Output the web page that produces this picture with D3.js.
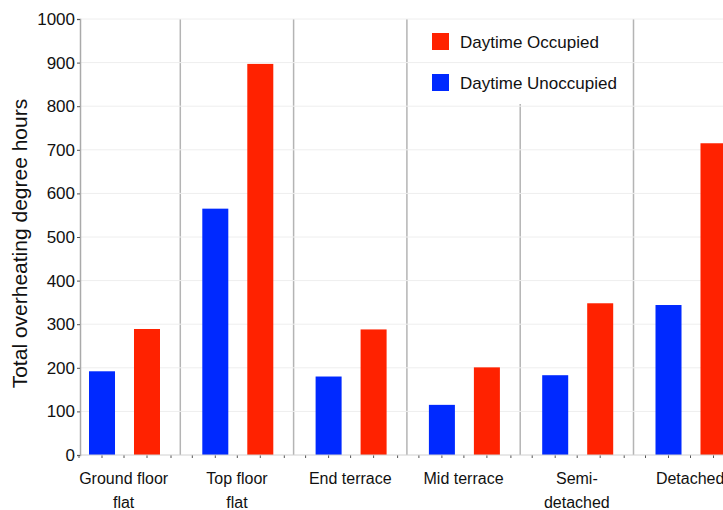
<!DOCTYPE html>
<html>
<head>
<meta charset="utf-8">
<script src="https://cdn.jsdelivr.net/npm/d3@7"></script>
<style>
  body { margin: 0; background: #fff; }
  text { font-family: "Liberation Sans", Arial, sans-serif; }
</style>
</head>
<body>
<div id="chart"></div>
<script>
// Data
const categories = ["Ground floor flat", "Top floor flat", "End terrace", "Mid terrace", "Semi-detached", "Detached"];
const labelLines = [["Ground floor", "flat"], ["Top floor", "flat"], ["End terrace"], ["Mid terrace"], ["Semi-", "detached"], ["Detached"]];
const seriesNames = ["Daytime Unoccupied", "Daytime Occupied"];
const unoccupied = [192, 565, 180, 115, 183, 344];
const occupied = [289, 897, 288, 201, 348, 715];
const yTicks = [0, 100, 200, 300, 400, 500, 600, 700, 800, 900, 1000];

const colors = { "Daytime Unoccupied": "#0029ff", "Daytime Occupied": "#ff2200" };

const width = 723;
const height = 510;
const axisX = 80;
const groupStart = 67;
const groupWidth = 113.3;

const svg = d3.select("#chart")
    .append("svg")
    .attr("width", width)
    .attr("height", height);

const yScale = d3.scaleLinear()
    .domain([0, 1000])
    .range([455, 19]);

const xScale = d3.scaleBand()
    .domain(categories)
    .range([groupStart, groupStart + groupWidth * categories.length])
    .padding(0);

const innerScale = d3.scaleBand()
    .domain(seriesNames)
    .range([22, 93])
    .paddingInner(0.422)
    .paddingOuter(0);

// Group dividers
categories.slice(1).forEach(c => {
    svg.append("line")
        .attr("x1", xScale(c))
        .attr("x2", xScale(c))
        .attr("y1", yScale(1000))
        .attr("y2", yScale(0))
        .attr("stroke", "#b4b4b4")
        .attr("stroke-width", 1.5);
});

// Legend background (hides the divider behind it)
svg.append("rect")
    .attr("x", xScale(categories[3]) + 1.5)
    .attr("y", yScale(1000))
    .attr("width", groupWidth * 2 - 3)
    .attr("height", 85)
    .attr("fill", "#fff");

// Gridlines
svg.append("g")
    .selectAll("line")
    .data(yTicks.slice(1))
    .enter().append("line")
    .attr("x1", axisX)
    .attr("x2", width)
    .attr("y1", d => yScale(d))
    .attr("y2", d => yScale(d))
    .attr("stroke", "#eeeeee")
    .attr("stroke-width", 1);

// Minor x ticks
const minorOffsets = [12, 35, 57, 80, 104];
categories.forEach(c => {
    minorOffsets.forEach(o => {
        svg.append("line")
            .attr("x1", xScale(c) + o)
            .attr("x2", xScale(c) + o)
            .attr("y1", yScale(0))
            .attr("y2", yScale(0) + 3)
            .attr("stroke", "#555")
            .attr("stroke-width", 1);
    });
});

// Bars
const rows = categories.map((c, i) => ({ cat: c, values: [
    { name: "Daytime Unoccupied", value: unoccupied[i] },
    { name: "Daytime Occupied", value: occupied[i] }
] }));

const groups = svg.selectAll(".group")
    .data(rows)
    .enter().append("g")
    .attr("class", "group")
    .attr("transform", d => `translate(${xScale(d.cat)},0)`);

groups.selectAll("rect")
    .data(d => d.values)
    .enter().append("rect")
    .attr("x", d => innerScale(d.name))
    .attr("y", d => yScale(d.value))
    .attr("width", innerScale.bandwidth())
    .attr("height", d => yScale(0) - yScale(d.value))
    .attr("fill", d => colors[d.name]);

// Baseline
svg.append("line")
    .attr("x1", axisX)
    .attr("x2", width)
    .attr("y1", yScale(0))
    .attr("y2", yScale(0))
    .attr("stroke", "#d0d0d0")
    .attr("stroke-width", 1);

// Y axis
const yAxis = svg.append("g")
    .attr("transform", `translate(${axisX},0)`)
    .call(d3.axisLeft(yScale).tickValues(yTicks).tickFormat(d3.format("d")).tickSize(3).tickPadding(2));
yAxis.select(".domain").attr("stroke", "#aaa").attr("stroke-width", 1.5);
yAxis.selectAll(".tick line").attr("stroke", "#555");
yAxis.selectAll("text")
    .style("font-size", "17px")
    .style("fill", "#111")
    .style("font-family", "'Liberation Sans', Arial, sans-serif");

// Y axis title
svg.append("text")
    .attr("transform", `translate(27, ${yScale(485)}) rotate(-90)`)
    .attr("text-anchor", "middle")
    .style("font-size", "21px")
    .style("fill", "#111")
    .text("Total overheating degree hours");

// X labels
categories.forEach((c, i) => {
    const cx = xScale(c) + groupWidth / 2;
    const t = svg.append("text")
        .attr("x", cx)
        .attr("y", 484)
        .attr("text-anchor", "middle")
        .style("font-size", "16px")
        .style("fill", "#111");
    labelLines[i].forEach((line, j) => {
        t.append("tspan")
            .attr("x", cx)
            .attr("dy", j === 0 ? 0 : 24)
            .text(line);
    });
});

// Legend
const legendOrder = ["Daytime Occupied", "Daytime Unoccupied"];
const legend = svg.append("g")
    .attr("transform", "translate(432, 33)");

const legendItems = legend.selectAll(".legend-item")
    .data(legendOrder)
    .enter().append("g")
    .attr("class", "legend-item")
    .attr("transform", (d, i) => `translate(0, ${i * 41})`);

legendItems.append("rect")
    .attr("width", 17)
    .attr("height", 17)
    .attr("fill", d => colors[d]);

legendItems.append("text")
    .attr("x", 28)
    .attr("y", 9)
    .attr("dy", ".35em")
    .style("font-size", "17px")
    .style("fill", "#111")
    .text(d => d);
</script>
</body>
</html>
